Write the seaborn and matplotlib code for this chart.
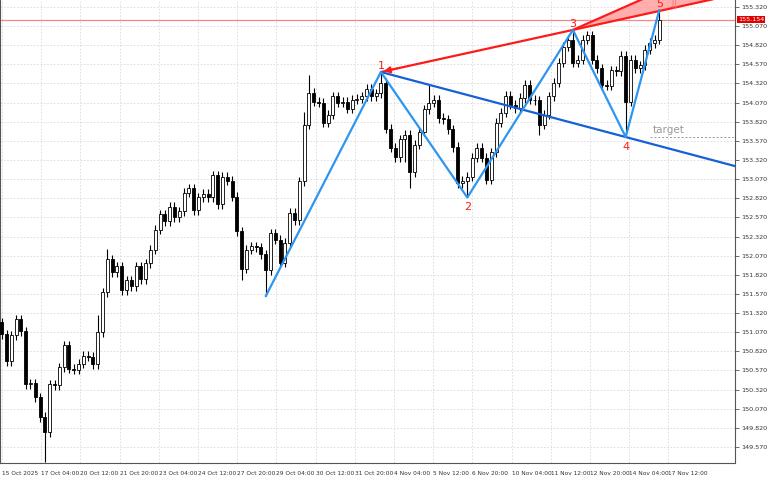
import matplotlib
matplotlib.use("Agg")
import matplotlib.pyplot as plt
import seaborn as sns
import numpy as np
import pandas as pd

closes = [151.04,150.69,151.03,151.24,151.08,150.39,150.40,150.22,149.96,149.76,
          150.39,150.38,150.61,150.90,150.59,150.58,150.66,150.76,150.75,150.65,
          151.07,151.59,152.02,151.85,151.93,151.62,151.75,151.67,151.93,151.76,
          151.97,152.15,152.41,152.61,152.52,152.71,152.57,152.65,152.89,152.95,
          152.66,152.83,152.88,152.83,153.12,152.74,153.10,153.05,152.84,152.39,
          151.90,152.15,152.19,152.18,152.09,151.88,152.36,152.28,151.98,152.24,
          152.63,152.53,153.04,153.78,154.20,154.08,154.07,153.81,153.91,154.15,
          154.07,154.08,153.99,154.11,154.12,154.15,154.25,154.15,154.19,154.33,
          153.73,153.48,153.36,153.59,153.65,153.16,153.52,153.69,153.98,154.07,
          154.11,153.87,153.85,153.72,153.49,153.02,153.05,153.10,153.35,153.48,
          153.35,153.06,153.42,153.81,153.94,154.16,154.04,154.00,154.13,154.30,
          154.11,154.10,153.78,153.91,154.15,154.33,154.59,154.80,154.89,154.59,
          154.63,154.89,154.95,154.63,154.52,154.30,154.29,154.49,154.48,154.68,
          154.08,154.63,154.52,154.56,154.76,154.85,154.89,155.154]
first_open = 151.20
high_overrides = {22: 152.16, 64: 154.43, 79: 154.47, 89: 154.30, 119: 155.02, 137: 155.28, 63: 153.95, 20: 151.30}
low_overrides = {9: 149.37, 50: 151.75, 55: 151.54, 85: 152.96, 97: 152.83, 112: 153.65, 130: 153.62, 84: 153.30}
wick = 0.06

pivot_bars = [55, 79, 97, 119, 130, 137]
pivot_prices = [151.54, 154.47, 152.83, 155.02, 153.62, 155.28]
pivot_labels = ["", "1", "2", "3", "4", "5"]
wedge_end_bar, wedge_end_price = 150, 155.88

date_labels = ["15 Oct 2025","17 Oct 04:00","20 Oct 12:00","21 Oct 20:00","23 Oct 04:00",
               "24 Oct 12:00","27 Oct 20:00","29 Oct 04:00","30 Oct 12:00","31 Oct 20:00",
               "4 Nov 04:00","5 Nov 12:00","6 Nov 20:00","10 Nov 04:00","11 Nov 12:00",
               "12 Nov 20:00","14 Nov 04:00","17 Nov 12:00"]
price_ticks = [155.320 - 0.25 * k for k in range(24)]
current_price = 155.154

sns.set_style("white")
plt.rcParams['font.family'] = ['DejaVu Sans']

n = len(closes)
idx = np.arange(n)
opens = [first_open] + closes[:-1]
highs = [high_overrides.get(i, max(opens[i], closes[i]) + wick) for i in range(n)]
lows = [low_overrides.get(i, min(opens[i], closes[i]) - wick) for i in range(n)]
df = pd.DataFrame({"i": idx, "o": opens, "c": closes, "h": highs, "l": lows})

fig = plt.figure(figsize=(7.68, 4.8), dpi=100)
ax = fig.add_axes([0, 17/480, 735/768, 463/480])
px = 4.8
ax.set_xlim(-1.7/px, (735 - 1.7)/px)
ax.set_ylim(149.36, 155.411)

# grid
tick_x = [(2 + 39.2*k - 1.7)/px for k in range(len(date_labels))]
for t in tick_x:
    ax.axvline(t, color="#d9d9d9", ls=(0, (2, 2)), lw=0.6, zorder=0)
for p in price_ticks:
    ax.axhline(p, color="#d9d9d9", ls=(0, (2, 2)), lw=0.6, zorder=0)

# candles
ax.vlines(df.i, df.l, df.h, color="black", lw=0.8, zorder=2)
bull = df.c >= df.o
bodies_h = (df.c - df.o).abs().clip(lower=0.008)
ax.bar(df.i[bull], bodies_h[bull], bottom=df.o[bull], width=0.6, color="white", edgecolor="black", lw=0.6, zorder=3)
ax.bar(df.i[~bull], bodies_h[~bull], bottom=df.c[~bull], width=0.6, color="black", edgecolor="black", lw=0.6, zorder=3)

# current price line
ax.axhline(current_price, color="#f08a8a", lw=0.9, zorder=1)

# red wedge
b1, p1 = pivot_bars[1], pivot_prices[1]
b3, p3 = pivot_bars[3], pivot_prices[3]
slope_r = (p3 - p1) / (b3 - b1)
xr = np.array([b1, 160])
sns.lineplot(x=xr, y=p1 + slope_r*(xr - b1), color="#ff1a1a", lw=1.6, ax=ax, zorder=5)
xu = np.array([b3, wedge_end_bar])
yu = np.array([p3, wedge_end_price])
sns.lineplot(x=xu, y=yu, color="#ff1a1a", lw=1.6, ax=ax, zorder=5)
ax.fill_between(xu, p1 + slope_r*(xu - b1), yu, color="#ff9999", alpha=0.8, lw=0, zorder=4)
ax.annotate("", xy=(b1, p1), xytext=(b1 + 4, p1 + 4*slope_r),
            arrowprops=dict(arrowstyle="-|>", color="#ff1a1a", lw=1.2), zorder=6)

# blue trend line
b4, p4 = pivot_bars[4], pivot_prices[4]
slope_b = (p4 - p1) / (b4 - b1)
xb = np.array([b1, 160])
sns.lineplot(x=xb, y=p1 + slope_b*(xb - b1), color="#1560d4", lw=1.6, ax=ax, zorder=5)

# zigzag
sns.lineplot(x=pivot_bars, y=pivot_prices, color="#2e95f0", lw=1.6, ax=ax, zorder=6, sort=False)
for b, p, lab in zip(pivot_bars, pivot_prices, pivot_labels):
    if not lab:
        continue
    low = lab in ("2", "4")
    ax.text(b, p + (-0.06 if low else 0.01), lab, color="#ff1a1a", fontsize=8,
            ha="center", va="top" if low else "bottom", zorder=7)

# target
ax.plot([pivot_bars[5] - 2, 160], [p4, p4], color="#999999", ls=(0, (2, 2)), lw=0.7, zorder=4)
ax.text(pivot_bars[5] - 1.3, p4 + 0.03, "target", color="#999999", fontsize=7.5, ha="left", va="bottom")
ax.text(pivot_bars[5] + 3, 155.33, "⇩", color="#ff6060", fontsize=9, ha="center", va="center", zorder=7)

# axes
ax.spines["top"].set_visible(False)
for s in ["left", "bottom", "right"]:
    ax.spines[s].set_color("#555555")
    ax.spines[s].set_linewidth(0.8)
ax.yaxis.tick_right()
ax.set_yticks(price_ticks)
ax.set_yticklabels([f"{p:.3f}" for p in price_ticks], fontsize=4.6, color="#333333")
ax.set_xticks(tick_x)
ax.set_xticklabels(date_labels, fontsize=4.2, color="#333333", ha="left")
ax.tick_params(axis="both", length=3, width=0.6, color="#555555", pad=1.5)
ax.tick_params(axis="x", pad=2.5)
ax.text(1.004, current_price, f"{current_price:.3f}", transform=ax.get_yaxis_transform(),
        fontsize=4.6, color="white", va="center", ha="left",
        bbox=dict(boxstyle="square,pad=0.15", fc="#e00000", ec="none"))
ax.set_xlabel("")
ax.set_ylabel("")

fig.savefig("out.png", dpi=100)
